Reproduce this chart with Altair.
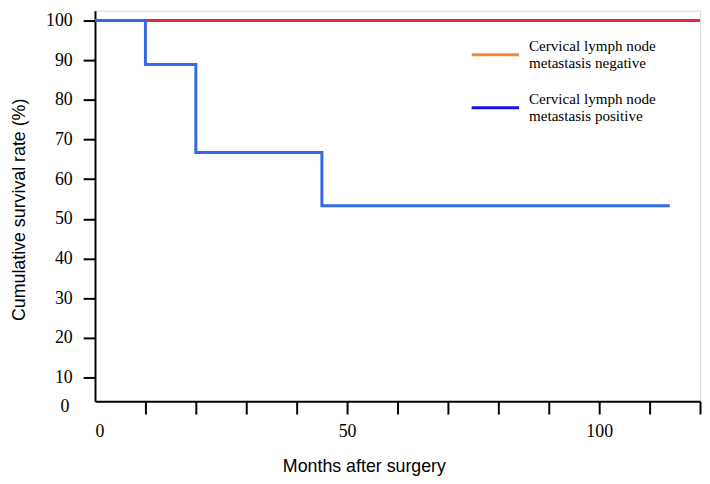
import altair as alt
import pandas as pd

# Data
neg_months = [0, 120]
neg_surv = [100, 100]
pos_months = [0, 10, 20, 45, 114]
pos_surv = [100, 88.9, 66.7, 53.3, 53.3]

legend_keys = ["neg", "pos"]
legend_line1 = ["Cervical lymph node", "Cervical lymph node"]
legend_line2 = ["metastasis negative", "metastasis positive"]
legend_colors = ["#f08a3c", "#1414e6"]
x_ticks = list(range(0, 121, 10))
y_ticks = list(range(10, 101, 10))

curves = pd.DataFrame(
    [{"series": "neg", "month": m, "surv": s} for m, s in zip(neg_months, neg_surv)]
    + [{"series": "pos", "month": m, "surv": s} for m, s in zip(pos_months, pos_surv)]
)

W, H = 612, 395
xscale = alt.Scale(domain=[0, 120], nice=False, zero=False)
yscale = alt.Scale(domain=[4.02, 102.49], nice=False, zero=False)

x_axis = alt.Axis(
    values=x_ticks,
    labelExpr="indexof([0, 50, 100], datum.value) >= 0 ? datum.label : ''",
    grid=False, domainColor="black", domainWidth=2,
    tickColor={"condition": {"test": "datum.value == 0", "value": "transparent"}, "value": "black"},
    tickWidth=2, tickSize=13, labelPadding=9,
    labelFont="Liberation Serif", labelFontSize=18, labelColor="black",
    title="Months after surgery", titleFont="Liberation Sans", titleFontSize=18,
    titleFontWeight="normal", titleColor="black",
    titleX=272, titleY=66, titleBaseline="middle", titleAnchor="start", titleAlign="center",
)
y_axis = alt.Axis(
    values=y_ticks, grid=False, domainColor="black", domainWidth=2,
    tickColor="black", tickWidth=2, tickSize=12, labelPadding=11,
    labelFont="Liberation Serif", labelFontSize=18, labelColor="black",
    title="Cumulative survival rate (%)", titleFont="Liberation Sans", titleFontSize=18,
    titleFontWeight="normal", titleColor="black",
    titleX=-76, titleY=201, titleBaseline="middle", titleAngle=-90, titleAlign="center",
)

base = alt.Chart(curves)
neg_line = base.transform_filter(alt.datum.series == "neg").mark_line(
    interpolate="step-after", strokeWidth=3, color="#e6283e"
).encode(
    x=alt.X("month:Q", scale=xscale, axis=x_axis),
    y=alt.Y("surv:Q", scale=yscale, axis=y_axis),
)
pos_line = base.transform_filter(alt.datum.series == "pos").mark_line(
    interpolate="step-after", strokeWidth=3, color="#3369e8"
).encode(
    x=alt.X("month:Q", scale=xscale),
    y=alt.Y("surv:Q", scale=yscale),
)

# Legend (drawn as marks; the reference legend colours differ from the curves)
legend_rows_y = [44.7, 98.3]  # legend layout, pixels from plot top
legend_layers = []
for i, key in enumerate(legend_keys):
    ldf = pd.DataFrame({"l1": [legend_line1[i]], "l2": [legend_line2[i]]})
    lb = alt.Chart(ldf)
    yy = legend_rows_y[i]
    legend_layers.append(
        lb.mark_rule(strokeWidth=3, color=legend_colors[i]).encode(
            x=alt.value(381), x2=alt.value(429), y=alt.value(yy)
        )
    )
    legend_layers.append(
        lb.mark_text(font="Liberation Serif", fontSize=15.3, color="black",
                     align="left", baseline="middle").encode(
            x=alt.value(439), y=alt.value(yy - 9), text="l1:N")
    )
    legend_layers.append(
        lb.mark_text(font="Liberation Serif", fontSize=15.3, color="black",
                     align="left", baseline="middle").encode(
            x=alt.value(439), y=alt.value(yy + 8), text="l2:N")
    )

zero_label = alt.Chart(pd.DataFrame({"t": ["0"]})).mark_text(
    font="Liberation Serif", fontSize=18, color="black", align="right", baseline="middle"
).encode(text="t:N", x=alt.value(-26), y=alt.value(H + 6))

chart = alt.layer(neg_line, pos_line, *legend_layers, zero_label).properties(
    width=W, height=H,
    autosize=alt.AutoSizeParams(type="none"),
    padding={"left": 88, "top": 0, "right": 2, "bottom": 73},
).configure_view(stroke="black", strokeWidth=2).configure(background="white")

chart.save("out.html", embed_options={"renderer": "svg", "actions": False})
